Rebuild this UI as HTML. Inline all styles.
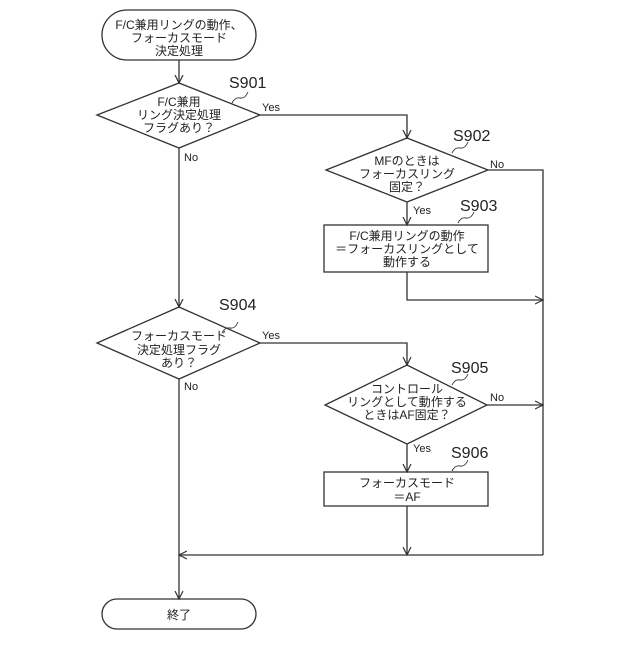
<!DOCTYPE html>
<html><head><meta charset="utf-8"><style>
body{margin:0;background:#fff}
svg text{font-family:"Liberation Sans","Noto Sans CJK JP",sans-serif;fill:#222}
</style></head><body>
<svg width="640" height="640" viewBox="0 0 640 640" xmlns="http://www.w3.org/2000/svg">
<defs><marker id="a" markerWidth="10" markerHeight="10" refX="8" refY="5" orient="auto" markerUnits="userSpaceOnUse"><path d="M0,1 L8,5 L0,9" fill="none" stroke="#333" stroke-width="1.2"/></marker></defs>
<g fill="none" stroke="#333" stroke-width="1.3">
<rect x="102" y="10" width="154" height="50" rx="25"/>
<rect x="102" y="599" width="154" height="30" rx="15"/>
<polygon points="97,115 179,83 260,115 179,148"/>
<polygon points="326,170 407,138 488,170 407,202"/>
<rect x="324" y="225" width="164" height="47"/>
<polygon points="97,343 179,307 260,343 179,379"/>
<polygon points="325,405 407,365 487,405 407,444"/>
<rect x="324" y="472" width="164" height="34"/>
<line x1="179" y1="60" x2="179" y2="83" marker-end="url(#a)"/>
<line x1="179" y1="148" x2="179" y2="307" marker-end="url(#a)"/>
<polyline points="260,115 407,115 407,138" marker-end="url(#a)"/>
<line x1="407" y1="202" x2="407" y2="225" marker-end="url(#a)"/>
<polyline points="488,170 543,170 543,555"/>
<polyline points="407,272 407,300 543,300" marker-end="url(#a)"/>
<polyline points="260,343 407,343 407,365" marker-end="url(#a)"/>
<line x1="487" y1="405" x2="543" y2="405" marker-end="url(#a)"/>
<line x1="407" y1="444" x2="407" y2="472" marker-end="url(#a)"/>
<line x1="407" y1="506" x2="407" y2="555" marker-end="url(#a)"/>
<line x1="543" y1="555" x2="179" y2="555" marker-end="url(#a)"/>
<line x1="179" y1="379" x2="179" y2="599" marker-end="url(#a)"/>
<g stroke-width="0.9">
<path d="M232,103 q3,-6 8,-5 t8,-6"/>
<path d="M452,153 q3,-6 8,-5 t8,-6"/>
<path d="M458,223 q3,-6 8,-5 t8,-6"/>
<path d="M222,333 q3,-6 8,-5 t8,-6"/>
<path d="M452,385 q3,-6 8,-5 t8,-6"/>
<path d="M452,471 q3,-6 8,-5 t8,-6"/>
</g>
</g>
<g font-size="12" text-anchor="middle">
<text x="179" y="29">F/C兼用リングの動作、</text>
<text x="179" y="42">フォーカスモード</text>
<text x="179" y="55">決定処理</text>
<text x="179" y="106">F/C兼用</text>
<text x="179" y="119">リング決定処理</text>
<text x="179" y="132">フラグあり？</text>
<text x="407" y="165">MFのときは</text>
<text x="407" y="178">フォーカスリング</text>
<text x="407" y="191">固定？</text>
<text x="407" y="240">F/C兼用リングの動作</text>
<text x="407" y="253">＝フォーカスリングとして</text>
<text x="407" y="266">動作する</text>
<text x="179" y="340">フォーカスモード</text>
<text x="179" y="354">決定処理フラグ</text>
<text x="179" y="367">あり？</text>
<text x="407" y="393">コントロール</text>
<text x="407" y="406">リングとして動作する</text>
<text x="407" y="419">ときはAF固定？</text>
<text x="407" y="487">フォーカスモード</text>
<text x="407" y="501">＝AF</text>
<text x="179" y="619">終了</text>
</g>
<g font-size="11">
<text x="262" y="111">Yes</text>
<text x="184" y="161">No</text>
<text x="413" y="214">Yes</text>
<text x="490" y="168">No</text>
<text x="262" y="339">Yes</text>
<text x="184" y="390">No</text>
<text x="413" y="452">Yes</text>
<text x="490" y="401">No</text>
</g>
<g font-size="16">
<text x="229" y="88">S901</text>
<text x="453" y="141">S902</text>
<text x="460" y="211">S903</text>
<text x="219" y="310">S904</text>
<text x="451" y="373">S905</text>
<text x="451" y="458">S906</text>
</g>
</svg>
</body></html>
